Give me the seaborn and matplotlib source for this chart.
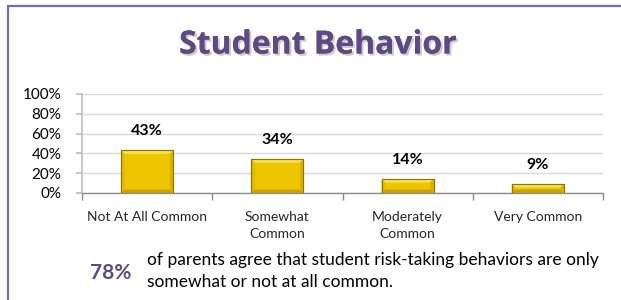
import matplotlib
matplotlib.use("Agg")
import matplotlib.pyplot as plt
import matplotlib.patheffects as pe
from matplotlib.patches import Polygon
from matplotlib.ticker import PercentFormatter, FixedLocator
import seaborn as sns
import pandas as pd

categories = ["Not At All Common", "Somewhat\nCommon", "Moderately\nCommon", "Very Common"]
shares = [0.43, 0.34, 0.14, 0.09]
value_labels = ["43%", "34%", "14%", "9%"]
y_ticks = [0, 0.2, 0.4, 0.6, 0.8, 1.0]

title = "Student Behavior"
callout_value = "78%"
callout_text = "of parents agree that student risk-taking behaviors are only\nsomewhat or not at all common."

df = pd.DataFrame({"category": categories, "share": shares})

sns.set_theme(style="white")
plt.rcParams["font.family"] = ["Lato", "DejaVu Sans"]

W, H = 621, 300
fig = plt.figure(figsize=(W / 100, H / 100), dpi=100)
fig.patch.set_facecolor("white")

purple = "#5E4A82"
frame = "#7E69A6"

# frame lines (left and top only)
fig.add_artist(plt.Line2D([8 / W, 8 / W], [0, 1 - 6 / H], color=frame, lw=1.6))
fig.add_artist(plt.Line2D([8 / W, 1], [1 - 6 / H, 1 - 6 / H], color=frame, lw=1.6))

fig.text(318 / W, 1 - 45 / H, title, ha="center", va="center", fontsize=23,
         fontweight="bold", color=purple, family=["Open Sans", "DejaVu Sans"],
         path_effects=[pe.withSimplePatchShadow(offset=(1.5, -1.5), shadow_rgbFace="#999999", alpha=0.5),
                       pe.Normal()])

# axes placed in pixel units
x0, x1 = 82, 603
y_top, y_bot = 94, 193
ax = fig.add_axes([x0 / W, 1 - y_bot / H, (x1 - x0) / W, (y_bot - y_top) / H])

sns.barplot(data=df, x="category", y="share", color="#EEC600", width=0.4,
            edgecolor="#8C7400", linewidth=0.8, saturation=1, ax=ax, zorder=3)

ax.set_xlim(-0.5, len(categories) - 0.5)
ax.set_ylim(0, 1)
ax.yaxis.set_major_locator(FixedLocator(y_ticks))
ax.yaxis.set_major_formatter(PercentFormatter(1.0, decimals=0))
ax.grid(axis="y", color="#D9D9D9", lw=1, zorder=0)
ax.set_axisbelow(True)
ax.set_xlabel("")
ax.set_ylabel("")

for s in ["top", "right"]:
    ax.spines[s].set_visible(False)
ax.spines["left"].set_color("#BFBFBF")
ax.spines["bottom"].set_color("#8C8C8C")
ax.spines["bottom"].set_linewidth(1)

ax.tick_params(axis="y", left=True, length=4, color="#BFBFBF", labelsize=11,
               labelcolor="black", pad=11)
ax.set_xticks(range(len(categories)))
ax.set_xticklabels(categories, fontsize=10, linespacing=1.45)
ax.set_xticks([i - 0.5 for i in range(len(categories) + 1)], minor=True)
ax.tick_params(axis="x", which="major", length=0, pad=13)
ax.tick_params(axis="x", which="minor", bottom=True, length=5, color="#8C8C8C", width=1)

fig.canvas.draw()

# bevel on each bar, derived from the bar patches
to_px = ax.transData
to_data = ax.transData.inverted()
for bar in list(ax.patches):
    bx, by = bar.get_x(), bar.get_y()
    bw, bh = bar.get_width(), bar.get_height()
    (px0, py0) = to_px.transform((bx, by))
    (px1, py1) = to_px.transform((bx + bw, by + bh))
    b = min(3.5, (py1 - py0) / 2.5)
    outer = [(px0, py0), (px1, py0), (px1, py1), (px0, py1)]
    inner = [(px0 + b, py0 + b), (px1 - b, py0 + b), (px1 - b, py1 - b), (px0 + b, py1 - b)]
    faces = [
        ([outer[3], outer[2], inner[2], inner[3]], "#F8DD55"),  # top
        ([outer[0], outer[1], inner[1], inner[0]], "#C9A300"),  # bottom
        ([outer[0], outer[3], inner[3], inner[0]], "#E0B900"),  # left
        ([outer[1], outer[2], inner[2], inner[1]], "#D9B200"),  # right
    ]
    for pts, col in faces:
        ax.add_patch(Polygon(to_data.transform(pts), closed=True, facecolor=col,
                             edgecolor="none", zorder=4))
    ax.add_patch(Polygon(to_data.transform(outer), closed=True, facecolor="none",
                         edgecolor="#8C7400", lw=0.8, zorder=5))

for i, (v, lab) in enumerate(zip(shares, value_labels)):
    ax.annotate(lab, xy=(i, v), xytext=(0, 9), textcoords="offset points",
                ha="center", va="bottom", fontsize=11.5, fontweight="bold", color="black")

fig.text(131 / W, 1 - 273 / H, callout_value, ha="right", va="center", fontsize=15,
         fontweight="bold", color=purple)
fig.text(147 / W, 1 - 271 / H, callout_text, ha="left", va="center", fontsize=12.5,
         color="black", linespacing=1.4)

fig.savefig("out.png", dpi=100, facecolor="white")
